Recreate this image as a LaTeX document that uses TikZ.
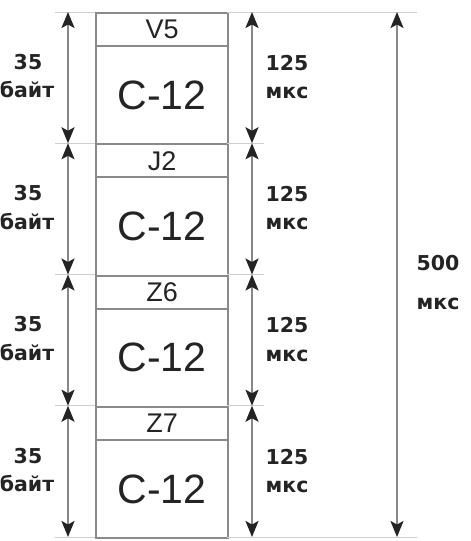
\documentclass[tikz,border=0pt]{standalone}
\usepackage{fontspec}
\setmainfont{Liberation Sans}
\newfontfamily\dimfont{DejaVu Sans}
\usetikzlibrary{arrows.meta}
\definecolor{boxgray}{HTML}{8A8A8A}
\definecolor{txt}{HTML}{242424}
\definecolor{arrowgray}{HTML}{878787}
\definecolor{extgray}{HTML}{CFCFCF}
\begin{document}
\begin{tikzpicture}[x=1pt,y=-1pt,
  hdr/.style={draw=boxgray, line width=2.2pt, minimum width=132pt, minimum height=33pt,
    anchor=north west, inner sep=0pt, text=txt, font=\fontsize{27}{27}\selectfont},
  body/.style={draw=boxgray, line width=2.2pt, minimum width=132pt, minimum height=98.25pt,
    anchor=north west, inner sep=0pt, text=txt, font=\fontsize{41}{41}\selectfont},
  dimarrow/.style={draw=arrowgray, line width=2pt,
    {Stealth[length=16pt,width=13pt,inset=3.5pt,color=txt]}-{Stealth[length=16pt,width=13pt,inset=3.5pt,color=txt]}},
  extline/.style={draw=extgray, line width=1pt},
  lbl/.style={text=txt, inner sep=0pt, font=\dimfont\bfseries\fontsize{20.5}{20.5}\selectfont}
]
\useasboundingbox (0,0) rectangle (471,541);

% frame sections
\foreach \k/\h in {0/V5,1/J2,2/Z6,3/Z7}{
  \pgfmathsetmacro{\yt}{12+131.25*\k}
  \node[hdr] (h\k) at (95,\yt) {\h};
  \node[body] (b\k) at (95,\yt+33) {C-12};
}

% boundary coordinates
\foreach \k in {0,1,2,3,4}{
  \pgfmathsetmacro{\yb}{12+131.25*\k}
  \coordinate (L\k) at (68,\yb);
  \coordinate (R\k) at (252,\yb);
  \coordinate (Le\k) at (55,\yb);
  \coordinate (Re\k) at (264,\yb);
}
\coordinate (T0) at (397,12);
\coordinate (T1) at (397,537);
\coordinate (TE0) at (417,12);
\coordinate (TE1) at (417,537);

% extension lines
\foreach \k in {1,2,3}{
  \draw[extline] (Le\k) -- (95,{12+131.25*\k});
  \draw[extline] (227,{12+131.25*\k}) -- (Re\k);
}
\draw[extline] (Le0) -- (95,12);
\draw[extline] (227,12) -- (TE0);
\draw[extline] (Le4) -- (95,537);
\draw[extline] (227,537) -- (TE1);

% dimension arrows and labels
\foreach \k [evaluate=\k as \n using int(\k+1)] in {0,1,2,3}{
  \draw[dimarrow] (L\k) -- (L\n);
  \draw[dimarrow] (R\k) -- (R\n);
  \node[lbl] (n35\k) at (28,{62+131.25*\k}) {35};
  \node[lbl] (nb\k) at (27,{90+131.25*\k}) {байт};
  \node[lbl] (n125\k) at (287,{63+131.25*\k}) {125};
  \node[lbl] (nm\k) at (287,{93+131.25*\k}) {мкс};
}
\draw[dimarrow] (T0) -- (T1);
\node[lbl] (n500) at (438,263) {500};
\node[lbl] (nm500) at (438,304) {мкс};
\end{tikzpicture}
\end{document}
